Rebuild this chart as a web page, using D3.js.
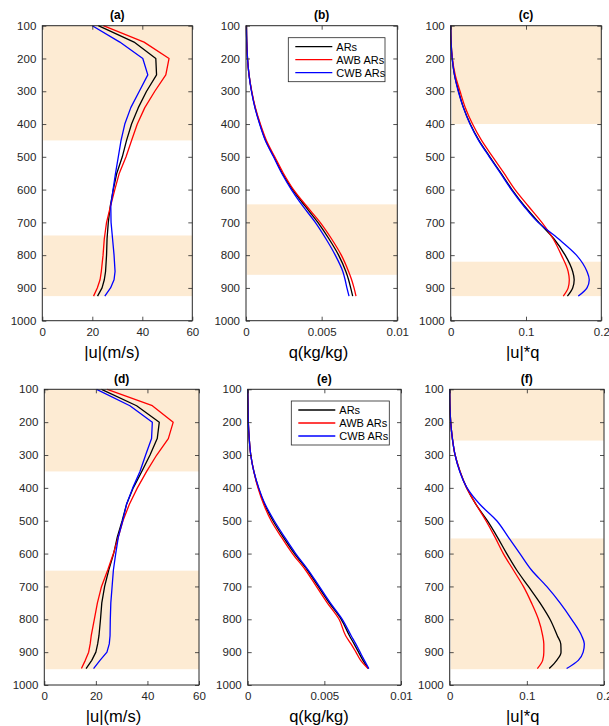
<!DOCTYPE html>
<html>
<head>
<meta charset="utf-8">
<script src="https://cdn.jsdelivr.net/npm/d3@7"></script>
<style>
  html, body { margin: 0; padding: 0; background: #fff; }
  svg { display: block; font-family: "Liberation Sans", Arial, Helvetica, sans-serif; }
</style>
</head>
<body>
<svg id="chart" width="609" height="726"></svg>
<script>
// ---------------- DATA ----------------
const seriesNames = ["ARs", "AWB ARs", "CWB ARs"];
const yTicks = [100, 200, 300, 400, 500, 600, 700, 800, 900, 1000];
const yTickLabels = ["100", "200", "300", "400", "500", "600", "700", "800", "900", "1000"];
const xTicksU = [0, 20, 40, 60];
const xTickLabelsU = ["0", "20", "40", "60"];
const xTicksQ = [0, 0.005, 0.01];
const xTickLabelsQ = ["0", "0.005", "0.01"];
const xTicksF = [0, 0.1, 0.2];
const xTickLabelsF = ["0", "0.1", "0.2"];
const panelTitles = ["(a)", "(b)", "(c)", "(d)", "(e)", "(f)"];
const xLabels = ["|u|(m/s)", "q(kg/kg)", "|u|*q", "|u|(m/s)", "q(kg/kg)", "|u|*q"];

const levelsTop = [100, 150, 200, 250, 300, 350, 400, 450, 500, 550, 600, 650, 700, 750, 800, 850, 875, 900, 925];
const levelsBottom = [100, 150, 200, 250, 300, 350, 400, 450, 500, 550, 600, 650, 700, 750, 800, 850, 875, 900, 925, 950];

// (a) |u|
const aARs = [22.4, 36.7, 45.4, 45.7, 41.7, 38.4, 35.7, 33.7, 32.0, 29.8, 28.4, 27.2, 26.4, 25.9, 25.7, 25.3, 24.8, 23.9, 22.1];
const aAWB = [24.4, 40.7, 50.7, 49.4, 45.0, 41.0, 38.0, 35.7, 33.5, 30.8, 29.0, 27.3, 25.7, 24.8, 24.3, 23.6, 23.1, 22.0, 20.5];
const aCWB = [20.0, 31.0, 40.2, 42.2, 38.8, 35.4, 33.0, 31.5, 30.4, 29.3, 28.3, 27.4, 27.5, 28.1, 28.7, 29.1, 28.7, 27.3, 25.0];
// (b) q
const bARs = [0.00003, 0.00005, 0.0001, 0.0002, 0.00037, 0.0006, 0.00092, 0.0013, 0.00185, 0.0024, 0.00308, 0.0039, 0.00475, 0.00548, 0.00612, 0.0066, 0.00678, 0.00692, 0.00705];
const bAWB = [0.00003, 0.00005, 0.0001, 0.0002, 0.00038, 0.00062, 0.00095, 0.00135, 0.0019, 0.00247, 0.00314, 0.004, 0.0049, 0.00565, 0.0063, 0.00678, 0.00698, 0.00714, 0.00727];
const bCWB = [0.00003, 0.00005, 0.0001, 0.0002, 0.00036, 0.00059, 0.0009, 0.00128, 0.00182, 0.00236, 0.003, 0.00375, 0.00458, 0.00528, 0.0059, 0.0064, 0.00655, 0.00667, 0.00681];
// (c) |u|*q
const cARs = [0, 0.0005, 0.002, 0.005, 0.0105, 0.017, 0.026, 0.0375, 0.052, 0.0668, 0.0814, 0.098, 0.117, 0.137, 0.152, 0.162, 0.164, 0.162, 0.155];
const cAWB = [0, 0.0005, 0.0022, 0.006, 0.0124, 0.0194, 0.029, 0.041, 0.0558, 0.0708, 0.0854, 0.103, 0.121, 0.136, 0.147, 0.156, 0.1575, 0.156, 0.1495];
const cCWB = [0, 0.0005, 0.002, 0.005, 0.010, 0.0168, 0.0256, 0.037, 0.0513, 0.066, 0.0805, 0.097, 0.116, 0.143, 0.167, 0.181, 0.184, 0.181, 0.1695];
// (d) |u|
const dARs = [22.2, 35.8, 44.6, 43.8, 41.0, 37.8, 34.5, 31.9, 30.2, 28.3, 26.9, 25.0, 23.4, 22.3, 21.8, 21.2, 20.7, 20.0, 18.4, 16.2];
const dAWB = [24.4, 41.9, 50.0, 48.1, 43.6, 39.7, 36.1, 33.0, 30.5, 28.7, 26.8, 24.6, 22.2, 20.6, 19.4, 18.2, 17.8, 17.2, 15.9, 14.4];
const dCWB = [20.3, 33.2, 41.9, 41.6, 39.3, 37.1, 34.3, 31.9, 30.4, 28.7, 27.7, 26.8, 26.3, 25.8, 25.6, 25.5, 25.2, 24.3, 21.6, 19.1];
// (e) q
const eARs = [0, 0.00002, 0.00004, 0.0001, 0.0002, 0.0004, 0.0007, 0.0011, 0.00165, 0.00232, 0.00305, 0.00389, 0.0046, 0.00532, 0.0061, 0.00664, 0.00694, 0.00723, 0.00752, 0.00787];
const eAWB = [0, 0.00002, 0.00004, 0.0001, 0.0002, 0.0004, 0.00067, 0.00104, 0.00153, 0.0022, 0.00292, 0.00377, 0.00448, 0.00519, 0.00596, 0.00639, 0.00674, 0.00706, 0.00737, 0.00785];
const eCWB = [0, 0.00002, 0.00004, 0.0001, 0.0002, 0.0004, 0.00072, 0.00114, 0.00173, 0.00241, 0.00313, 0.00395, 0.00467, 0.00539, 0.00617, 0.00675, 0.00705, 0.00733, 0.00761, 0.0079];
// (f) |u|*q
const fARs = [0, 0.0003, 0.0013, 0.0035, 0.007, 0.0134, 0.022, 0.034, 0.0488, 0.0618, 0.0739, 0.0868, 0.102, 0.117, 0.130, 0.1395, 0.144, 0.1443, 0.1387, 0.129];
const fAWB = [0, 0.0003, 0.0013, 0.0035, 0.007, 0.0134, 0.022, 0.034, 0.047, 0.0587, 0.0695, 0.0825, 0.0955, 0.106, 0.115, 0.1205, 0.122, 0.122, 0.1205, 0.1136];
const fCWB = [0, 0.0003, 0.0013, 0.0035, 0.007, 0.013, 0.0225, 0.039, 0.061, 0.076, 0.091, 0.106, 0.1257, 0.143, 0.158, 0.171, 0.1745, 0.173, 0.1667, 0.1516];

// shaded pressure ranges per panel
const bandsA = [[100, 450], [740, 925]];
const bandsB = [[645, 860]];
const bandsC = [[100, 400], [820, 925]];
const bandsD = [[100, 350], [652, 952]];
const bandsE = [];
const bandsF = [[100, 256], [554, 952]];

// ---------------- LAYOUT / STYLE ----------------
const colors = ["#000000", "#ff0000", "#0000ff"];
const bandColor = "#fdebd3";
const axisColor = "#262626";
const fontFam = '"Liberation Sans", Arial, Helvetica, sans-serif';

const rows = [
  { top: 25.7, bottom: 320.7 },
  { top: 389.3, bottom: 685 }
];

const panels = [
  { row: 0, x0: 42.3, x1: 192.3, xmax: 60, levels: levelsTop, series: [aARs, aAWB, aCWB], bands: bandsA, ticks: xTicksU, tickLabels: xTickLabelsU, smooth: false, labelX: 112, legend: false },
  { row: 0, x0: 246, x1: 397.3, xmax: 0.01, levels: levelsTop, series: [bARs, bAWB, bCWB], bands: bandsB, ticks: xTicksQ, tickLabels: xTickLabelsQ, smooth: true, labelX: 318.5, legend: true, lgX: 288.3, lgY: 37.7, lgW: 96.7, lgH: 44 },
  { row: 0, x0: 450.7, x1: 601.3, xmax: 0.2, levels: levelsTop, series: [cARs, cAWB, cCWB], bands: bandsC, ticks: xTicksF, tickLabels: xTickLabelsF, smooth: true, labelX: 522.7, legend: false },
  { row: 1, x0: 44.3, x1: 199, xmax: 60, levels: levelsBottom, series: [dARs, dAWB, dCWB], bands: bandsD, ticks: xTicksU, tickLabels: xTickLabelsU, smooth: false, labelX: 113.5, legend: false },
  { row: 1, x0: 247.7, x1: 401, xmax: 0.01, levels: levelsBottom, series: [eARs, eAWB, eCWB], bands: bandsE, ticks: xTicksQ, tickLabels: xTickLabelsQ, smooth: true, labelX: 319, legend: true, lgX: 291.3, lgY: 401, lgW: 98, lgH: 44 },
  { row: 1, x0: 449.7, x1: 604, xmax: 0.2, levels: levelsBottom, series: [fARs, fAWB, fCWB], bands: bandsF, ticks: xTicksF, tickLabels: xTickLabelsF, smooth: true, labelX: 522.7, legend: false }
];

const svg = d3.select("#chart");

panels.forEach((p, i) => {
  const r = rows[p.row];
  const x = d3.scaleLinear().domain([0, p.xmax]).range([p.x0, p.x1]);
  const y = d3.scaleLinear().domain([100, 1000]).range([r.top, r.bottom]);
  const g = svg.append("g");

  // bands
  g.selectAll("rect.band").data(p.bands).join("rect")
    .attr("class", "band")
    .attr("x", x(0) + 1)
    .attr("width", x(p.xmax) - x(0) - 1)
    .attr("y", d => y(d[0]))
    .attr("height", d => y(d[1]) - y(d[0]))
    .attr("fill", bandColor);

  const line = d3.line()
    .x(d => x(d[1]))
    .y(d => y(d[0]))
    .curve(p.smooth ? d3.curveMonotoneY : d3.curveLinear);
  p.series.forEach((vals, k) => {
    const pts = p.levels.map((lv, j) => [lv, vals[j]]);
    g.append("path")
      .datum(pts)
      .attr("d", line)
      .attr("fill", "none")
      .attr("stroke", colors[k])
      .attr("stroke-width", 1.3)
      .attr("stroke-linejoin", "round");
  });

  const yAxL = d3.axisLeft(y).tickValues(yTicks).tickFormat((d, j) => yTickLabels[j])
    .tickSizeInner(-4).tickSizeOuter(0).tickPadding(6);
  const gl = g.append("g").attr("transform", `translate(${p.x0},0)`).call(yAxL);
  const yAxR = d3.axisRight(y).tickValues(yTicks).tickFormat("").tickSizeInner(-4).tickSizeOuter(0);
  const gr = g.append("g").attr("transform", `translate(${p.x1},0)`).call(yAxR);
  const xAxB = d3.axisBottom(x).tickValues(p.ticks).tickFormat((d, j) => p.tickLabels[j])
    .tickSizeInner(-4).tickSizeOuter(0).tickPadding(7);
  const gb = g.append("g").attr("transform", `translate(0,${r.bottom})`).call(xAxB);
  const xAxT = d3.axisTop(x).tickValues(p.ticks).tickFormat("").tickSizeInner(-4).tickSizeOuter(0);
  const gt = g.append("g").attr("transform", `translate(0,${r.top})`).call(xAxT);

  [gl, gr, gb, gt].forEach(a => {
    a.select(".domain").remove();
    a.selectAll(".tick line").attr("stroke", axisColor).attr("stroke-width", 0.8);
    a.selectAll(".tick text").attr("fill", axisColor)
      .style("font-family", fontFam).style("font-size", "11.5px");
  });

  g.append("rect")
    .attr("x", p.x0).attr("y", r.top)
    .attr("width", p.x1 - p.x0).attr("height", r.bottom - r.top)
    .attr("fill", "none").attr("stroke", axisColor).attr("stroke-width", 1);

  g.append("text")
    .attr("x", (p.x0 + p.x1) / 2).attr("y", r.top - 6.5)
    .attr("text-anchor", "middle")
    .style("font-family", fontFam).style("font-size", "12px").style("font-weight", "bold")
    .attr("fill", "#000")
    .text(panelTitles[i]);

  g.append("text")
    .attr("x", p.labelX).attr("y", r.bottom + 37)
    .attr("text-anchor", "middle")
    .style("font-family", fontFam).style("font-size", "16.5px")
    .attr("fill", "#000")
    .text(xLabels[i]);

  if (p.legend) {
    const lg = g.append("g").attr("transform", `translate(${p.lgX},${p.lgY})`);
    lg.append("rect").attr("width", p.lgW).attr("height", p.lgH)
      .attr("fill", "#fff").attr("stroke", axisColor).attr("stroke-width", 0.8);
    seriesNames.forEach((nm, k) => {
      const yy = 9 + k * 13;
      lg.append("line").attr("x1", 7).attr("x2", 44).attr("y1", yy).attr("y2", yy)
        .attr("stroke", colors[k]).attr("stroke-width", 1.3);
      lg.append("text").attr("x", 48).attr("y", yy + 4)
        .style("font-family", fontFam).style("font-size", "11px")
        .attr("fill", "#000").text(nm);
    });
  }
});
</script>
</body>
</html>
